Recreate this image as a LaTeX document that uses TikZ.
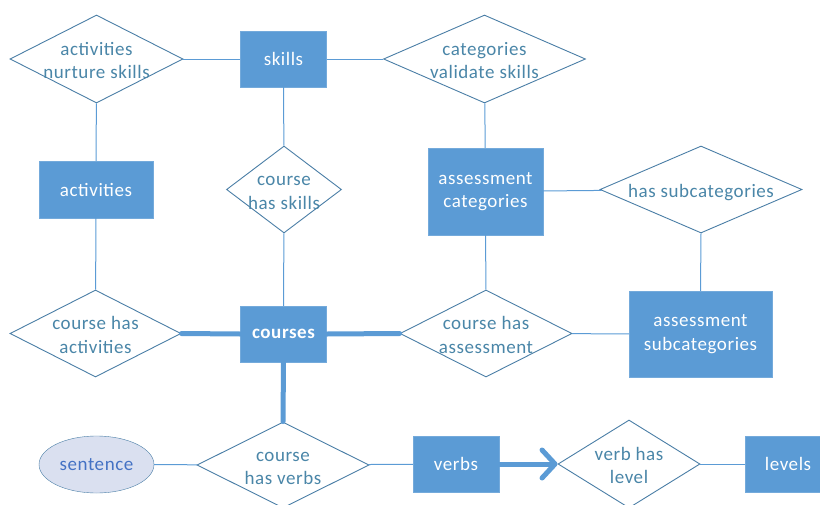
\documentclass[tikz,border=0pt]{standalone}
\usepackage{fontspec}
\setmainfont{Carlito}[LetterSpace=3]
\usepackage{xcolor}
\usepackage{tikz}
\usetikzlibrary{arrows.meta,shapes.geometric}

\definecolor{boxblue}{HTML}{5B9BD5}
\definecolor{relline}{HTML}{4A7EA6}
\definecolor{reltxt}{HTML}{4A86A8}
\definecolor{attrfill}{HTML}{DAE0F0}
\definecolor{attrtxt}{HTML}{4472C4}

\newcommand{\reltext}[1]{\smash{\makebox[0pt]{\raisebox{-7.5pt}{\begin{tabular}{@{}c@{}}#1\end{tabular}}}}}

\tikzset{
  ent/.style={rectangle, fill=boxblue, draw=boxblue!85!white, text=white,
    align=center, inner sep=0pt, minimum width=86, minimum height=56},
  rel/.style={diamond, draw=relline, line width=0.9pt, fill=white, text=reltxt,
    inner sep=0pt, minimum width=172, minimum height=87},
  attr/.style={ellipse, draw=relline, fill=attrfill, text=attrtxt,
    inner sep=0pt, minimum width=115, minimum height=57},
  link/.style={draw=boxblue, line width=1pt},
  idlink/.style={draw=boxblue, line width=5pt, line cap=round}
}

\begin{document}
\begin{tikzpicture}[x=1pt, y=-1pt, font=\fontsize{19}{23.5}\selectfont]
\useasboundingbox (0,0) rectangle (820,504);

% entities
\node[ent] (skills) at (283.5,59) {skills};
\node[ent, minimum width=114, minimum height=57] (activities) at (96,189.5) {activities};
\node[ent, minimum width=115, minimum height=87] (asmcat) at (485.5,191.5) {assessment\\categories};
\node[ent, font=\fontsize{19}{23.5}\selectfont\bfseries] (courses) at (283.5,334) {courses};
\node[ent, minimum width=143, minimum height=86] (asmsub) at (700.5,334) {assessment\\subcategories};
\node[ent] (verbs) at (456,464) {verbs};
\node[ent] (levels) at (788,464) {levels};
\node[attr] (sentence) at (96.5,464.5) {sentence};

% relationships
\node[rel, minimum width=173, minimum height=88] (actnur) at (96.5,59) {\reltext{activities\\nurture skills}};
\node[rel, minimum width=202, minimum height=88] (catval) at (484.5,59) {\reltext{categories\\validate skills}};
\node[rel, minimum width=115] (crsskl) at (284,189.5) {\reltext{course\\has skills}};
\node[rel, minimum width=202] (hassub) at (701,189.5) {\reltext{has subcategories}};
\node[rel, minimum width=171] (crsact) at (95.5,333.5) {\reltext{course has\\activities}};
\node[rel] (crsasm) at (486,333.5) {\reltext{course has\\assessment}};
\node[rel, minimum width=172, minimum height=86] (crsvrb) at (283,465) {\reltext{course\\has verbs}};
\node[rel, minimum width=142, minimum height=88] (vrblvl) at (629,464) {\reltext{verb has\\level}};

% connectors
\draw[link] (actnur) -- (skills);
\draw[link] (skills) -- (catval);
\draw[link] (actnur) -- (activities);
\draw[link] (activities) -- (crsact);
\draw[link] (skills) -- (crsskl);
\draw[link] (crsskl) -- (courses);
\draw[link] (catval) -- (asmcat);
\draw[link] (asmcat) -- (hassub);
\draw[link] (hassub.south) -- (asmsub.north);
\draw[link] (asmcat) -- (crsasm);
\draw[link] (crsasm) -- (asmsub);
\draw[link] (sentence) -- (crsvrb);
\draw[link] (crsvrb) -- (verbs);
\draw[link] (vrblvl) -- (levels);

\draw[idlink] (crsact.east) -- (courses.west);
\draw[idlink] (courses.east) -- (crsasm.west);
\draw[idlink] (courses.south) -- (crsvrb.north);
\draw[idlink, -{Straight Barb[length=13pt, width=28pt, round]}] (verbs.east) -- (vrblvl.west);
\end{tikzpicture}
\end{document}
